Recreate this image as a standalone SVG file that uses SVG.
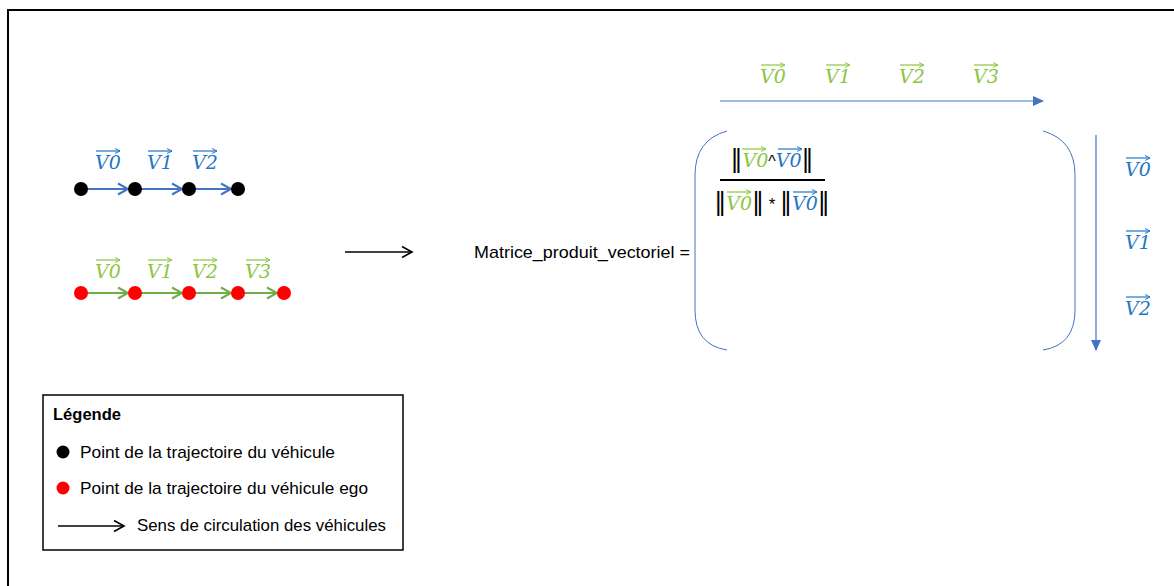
<svg xmlns="http://www.w3.org/2000/svg" width="1174" height="586" viewBox="0 0 1174 586">
<defs>
<style>
.v{font-family:"DejaVu Serif","Liberation Serif",serif;font-style:italic;font-size:19px;text-anchor:middle}
.b{fill:#1F77C8}
.g{fill:#8CC63F}
.ob{stroke:#1F77C8;stroke-width:1.2}
.og{stroke:#8CC63F;stroke-width:1.2}
.lab{font-family:"Liberation Sans",Arial,sans-serif;font-size:17px;fill:#000}
.f{font-family:"DejaVu Serif",serif;font-size:19px;text-anchor:middle;fill:#000}
.nb{font-family:"DejaVu Sans",sans-serif;font-size:24px;font-style:normal;fill:#000}
.fv{font-style:italic}
</style>
<marker id="ahb" markerWidth="6" markerHeight="6" refX="5" refY="3" orient="auto" markerUnits="userSpaceOnUse"><path d="M0,0.5 L5,3 L0,5.5" fill="none" stroke="#1F77C8" stroke-width="1"/></marker>
<marker id="ahg" markerWidth="6" markerHeight="6" refX="5" refY="3" orient="auto" markerUnits="userSpaceOnUse"><path d="M0,0.5 L5,3 L0,5.5" fill="none" stroke="#8CC63F" stroke-width="1"/></marker>
<marker id="openB" markerWidth="14" markerHeight="14" refX="11" refY="7" orient="auto" markerUnits="userSpaceOnUse"><path d="M1,1.5 L11,7 L1,12.5" fill="none" stroke="#4472C4" stroke-width="2"/></marker>
<marker id="openG" markerWidth="14" markerHeight="14" refX="11" refY="7" orient="auto" markerUnits="userSpaceOnUse"><path d="M1,1.5 L11,7 L1,12.5" fill="none" stroke="#70AD47" stroke-width="2"/></marker>
<marker id="openK" markerWidth="14" markerHeight="14" refX="11" refY="7" orient="auto" markerUnits="userSpaceOnUse"><path d="M1,1.5 L11,7 L1,12.5" fill="none" stroke="#000" stroke-width="1.6"/></marker>
<marker id="triB" markerWidth="12" markerHeight="12" refX="10" refY="6" orient="auto" markerUnits="userSpaceOnUse"><path d="M0,1 L11,6 L0,11 Z" fill="#4472C4"/></marker>
</defs>
<rect width="1174" height="586" fill="#fff"/>
<rect x="8" y="10" width="1180" height="600" fill="none" stroke="#000" stroke-width="2"/>

<g id="connectors" fill="none">
<line x1="81" y1="189" x2="128" y2="189" stroke="#4472C4" stroke-width="2" marker-end="url(#openB)"/>
<line x1="135" y1="189" x2="182" y2="189" stroke="#4472C4" stroke-width="2" marker-end="url(#openB)"/>
<line x1="189" y1="189" x2="231" y2="189" stroke="#4472C4" stroke-width="2" marker-end="url(#openB)"/>
<line x1="81" y1="293" x2="128" y2="293" stroke="#70AD47" stroke-width="2" marker-end="url(#openG)"/>
<line x1="135" y1="293" x2="182" y2="293" stroke="#70AD47" stroke-width="2" marker-end="url(#openG)"/>
<line x1="189" y1="293" x2="231" y2="293" stroke="#70AD47" stroke-width="2" marker-end="url(#openG)"/>
<line x1="238" y1="293" x2="277" y2="293" stroke="#70AD47" stroke-width="2" marker-end="url(#openG)"/>
<line x1="345" y1="252" x2="412" y2="252" stroke="#000" stroke-width="1.6" marker-end="url(#openK)"/>
<line x1="720" y1="101" x2="1043" y2="101" stroke="#4472C4" stroke-width="1.2" marker-end="url(#triB)"/>
<line x1="1096" y1="135" x2="1096" y2="350" stroke="#4472C4" stroke-width="1.2" marker-end="url(#triB)"/>
</g>

<g id="traj-vehicule">
<circle cx="81" cy="189" r="7" fill="#000"/>
<circle cx="135" cy="189" r="7" fill="#000"/>
<circle cx="189" cy="189" r="7" fill="#000"/>
<circle cx="238" cy="189" r="7" fill="#000"/>
<text class="v b" x="108" y="169">V0</text><line class="ob" x1="96" y1="151" x2="120" y2="151" marker-end="url(#ahb)"/>
<text class="v b" x="160" y="169">V1</text><line class="ob" x1="148" y1="151" x2="172" y2="151" marker-end="url(#ahb)"/>
<text class="v b" x="205" y="169">V2</text><line class="ob" x1="193" y1="151" x2="217" y2="151" marker-end="url(#ahb)"/>
</g>

<g id="traj-ego">
<circle cx="81" cy="293" r="7" fill="#FF0000"/>
<circle cx="135" cy="293" r="7" fill="#FF0000"/>
<circle cx="189" cy="293" r="7" fill="#FF0000"/>
<circle cx="238" cy="293" r="7" fill="#FF0000"/>
<circle cx="284" cy="293" r="7" fill="#FF0000"/>
<text class="v g" x="108" y="278">V0</text><line class="og" x1="96" y1="260" x2="120" y2="260" marker-end="url(#ahg)"/>
<text class="v g" x="160" y="278">V1</text><line class="og" x1="148" y1="260" x2="172" y2="260" marker-end="url(#ahg)"/>
<text class="v g" x="205" y="278">V2</text><line class="og" x1="193" y1="260" x2="217" y2="260" marker-end="url(#ahg)"/>
<text class="v g" x="258" y="278">V3</text><line class="og" x1="246" y1="260" x2="270" y2="260" marker-end="url(#ahg)"/>
</g>

<g id="matrice-label">
<text class="lab" x="474" y="258" font-size="17" textLength="216" lengthAdjust="spacingAndGlyphs">Matrice_produit_vectoriel =</text>
</g>

<g id="colonnes">
<text class="v g" x="773" y="83">V0</text><line class="og" x1="761" y1="65" x2="785" y2="65" marker-end="url(#ahg)"/>
<text class="v g" x="838" y="83">V1</text><line class="og" x1="826" y1="65" x2="850" y2="65" marker-end="url(#ahg)"/>
<text class="v g" x="912" y="83">V2</text><line class="og" x1="900" y1="65" x2="924" y2="65" marker-end="url(#ahg)"/>
<text class="v g" x="986" y="83">V3</text><line class="og" x1="974" y1="65" x2="998" y2="65" marker-end="url(#ahg)"/>
</g>

<g id="lignes">
<text class="v b" x="1138" y="176">V0</text><line class="ob" x1="1126" y1="158" x2="1150" y2="158" marker-end="url(#ahb)"/>
<text class="v b" x="1138" y="249">V1</text><line class="ob" x1="1126" y1="231" x2="1150" y2="231" marker-end="url(#ahb)"/>
<text class="v b" x="1138" y="315">V2</text><line class="ob" x1="1126" y1="297" x2="1150" y2="297" marker-end="url(#ahb)"/>
</g>

<g id="matrice">
<path d="M727,131 Q695,140 695,175 L695,310 Q695,345 727,350" fill="none" stroke="#4472C4" stroke-width="1"/>
<path d="M1043,131 Q1075,140 1075,175 L1075,310 Q1075,345 1043,350" fill="none" stroke="#4472C4" stroke-width="1"/>
</g>

<g id="formule">
<text class="f" x="772" y="167"><tspan class="nb">‖</tspan><tspan class="fv g">V0</tspan><tspan font-size="16" font-family="Liberation Sans,sans-serif">^</tspan><tspan class="fv b">V0</tspan><tspan class="nb">‖</tspan></text>
<line class="og" x1="742" y1="149" x2="766" y2="149" marker-end="url(#ahg)"/>
<line class="ob" x1="778" y1="149" x2="802" y2="149" marker-end="url(#ahb)"/>
<line x1="720" y1="180" x2="825" y2="180" stroke="#000" stroke-width="2"/>
<text class="f" x="772" y="210"><tspan class="nb">‖</tspan><tspan class="fv g">V0</tspan><tspan class="nb">‖</tspan><tspan font-size="17" font-family="Liberation Sans,sans-serif"> * </tspan><tspan class="nb">‖</tspan><tspan class="fv b">V0</tspan><tspan class="nb">‖</tspan></text>
<line class="og" x1="727" y1="192" x2="751" y2="192" marker-end="url(#ahg)"/>
<line class="ob" x1="793" y1="192" x2="817" y2="192" marker-end="url(#ahb)"/>
</g>

<g id="legende">
<rect x="43" y="395" width="360" height="155" fill="#fff" stroke="#000" stroke-width="1.5"/>
<text class="lab" x="53" y="420" font-weight="bold" textLength="68" lengthAdjust="spacingAndGlyphs">Légende</text>
<circle cx="63" cy="452" r="6.5" fill="#000"/>
<text class="lab" x="80" y="458" textLength="255" lengthAdjust="spacingAndGlyphs">Point de la trajectoire du véhicule</text>
<circle cx="63" cy="488" r="6.5" fill="#FF0000"/>
<text class="lab" x="80" y="494" textLength="288" lengthAdjust="spacingAndGlyphs">Point de la trajectoire du véhicule ego</text>
<line x1="58" y1="526" x2="124" y2="526" stroke="#000" stroke-width="1.6" marker-end="url(#openK)"/>
<text class="lab" x="137" y="531" textLength="249" lengthAdjust="spacingAndGlyphs">Sens de circulation des véhicules</text>
</g>
</svg>
